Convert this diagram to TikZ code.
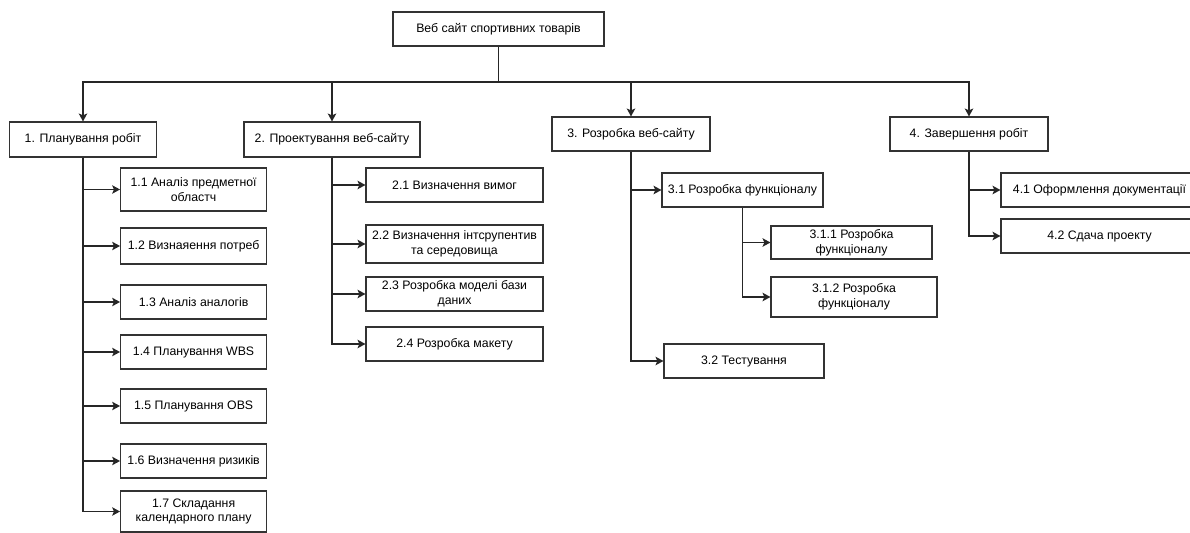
\documentclass[tikz,border=0pt]{standalone}
\usepackage{fontspec}
\setmainfont{Liberation Sans}
\usepackage{tikz}
\usetikzlibrary{arrows.meta,positioning}

\begin{document}
\begin{tikzpicture}[x=0.02cm, y=-0.02cm,
        box/.style = {draw=black!80, line width=0.6pt, inner sep=1pt, align=center,
                      font=\fontsize{7}{8.5}\selectfont},
        arrow/.style = {line width=0.8pt, black!85, -{Stealth[length=4.5pt,width=4.8pt,inset=1pt]}}
        ]
        \useasboundingbox (0,0) rectangle (1190,533);

        % root and first level
        \node[box, minimum width=211*0.02cm, minimum height=34*0.02cm] (root) at (498.5,29) {Веб сайт спортивних товарів};
        \coordinate (bus) at (498.5,82);

        \node[box, minimum width=147*0.02cm, minimum height=35*0.02cm] (p1) at (83,139.5) {1. Планування робіт};
        \node[box, minimum width=176*0.02cm, minimum height=35*0.02cm] (p2) at (332,139.5) {2. Проектування веб-сайту};
        \node[box, minimum width=158*0.02cm, minimum height=34*0.02cm] (p3) at (631,134) {3. Розробка веб-сайту};
        \node[box, minimum width=158*0.02cm, minimum height=34*0.02cm] (p4) at (969,134) {4. Завершення робіт};

        % 1.x
        \node[box, minimum width=146*0.02cm, minimum height=43*0.02cm] (p11) at (193.6,189.5) {1.1 Аналіз предметної\\областч};
        \node[box, minimum width=146*0.02cm, minimum height=36*0.02cm] (p12) at (193.6,246) {1.2 Визнаяення потреб};
        \node[box, minimum width=146*0.02cm, minimum height=34*0.02cm] (p13) at (193.6,302) {1.3 Аналіз аналогів};
        \node[box, minimum width=146*0.02cm, minimum height=34*0.02cm] (p14) at (193.6,352) {1.4 Планування WBS};
        \node[box, minimum width=146*0.02cm, minimum height=34*0.02cm] (p15) at (193.6,406) {1.5 Планування OBS};
        \node[box, minimum width=146*0.02cm, minimum height=34*0.02cm] (p16) at (193.6,461) {1.6 Визначення ризиків};
        \node[box, minimum width=146*0.02cm, minimum height=41*0.02cm] (p17) at (193.6,511.5) {1.7 Складання\\календарного плану};

        % 2.x
        \node[box, minimum width=177*0.02cm, minimum height=34*0.02cm] (p21) at (454.5,185) {2.1 Визначення вимог};
        \node[box, minimum width=177*0.02cm, minimum height=38*0.02cm] (p22) at (454.5,244) {2.2 Визначення інтсрупентив\\та середовища};
        \node[box, minimum width=177*0.02cm, minimum height=34*0.02cm] (p23) at (454.5,294) {2.3 Розробка моделі бази\\даних};
        \node[box, minimum width=177*0.02cm, minimum height=34*0.02cm] (p24) at (454.5,344) {2.4 Розробка макету};

        % 3.x
        \node[box, minimum width=161*0.02cm, minimum height=34*0.02cm] (p31) at (742.5,190) {3.1 Розробка функціоналу};
        \node[box, minimum width=161*0.02cm, minimum height=33*0.02cm] (p311) at (851.5,242.5) {3.1.1 Розробка\\функціоналу};
        \node[box, minimum width=166*0.02cm, minimum height=40*0.02cm] (p312) at (854,297) {3.1.2 Розробка\\функціоналу};
        \node[box, minimum width=160*0.02cm, minimum height=34*0.02cm] (p32) at (744,361) {3.2 Тестування};

        % 4.x
        \node[box, minimum width=197*0.02cm, minimum height=34*0.02cm] (p41) at (1099.5,190) {4.1 Оформлення документації};
        \node[box, minimum width=197*0.02cm, minimum height=34*0.02cm] (p42) at (1099.5,236) {4.2 Сдача проекту};

        % connectors
        \draw[line width=1.1pt, black!85] (root.south) -- (bus);
        \foreach \p in {p1,p2,p3,p4}
            \draw[arrow] (bus) -| (\p.north);

        \foreach \c in {p11,p12,p13,p14,p15,p16,p17}
            \draw[arrow] (p1.south) |- (\c.west);
        \foreach \c in {p21,p22,p23,p24}
            \draw[arrow] (p2.south) |- (\c.west);
        \foreach \c in {p31,p32}
            \draw[arrow] (p3.south) |- (\c.west);
        \foreach \c in {p311,p312}
            \draw[arrow] (p31.south) |- (\c.west);
        \foreach \c in {p41,p42}
            \draw[arrow] (p4.south) |- (\c.west);

    \end{tikzpicture}
\end{document}
